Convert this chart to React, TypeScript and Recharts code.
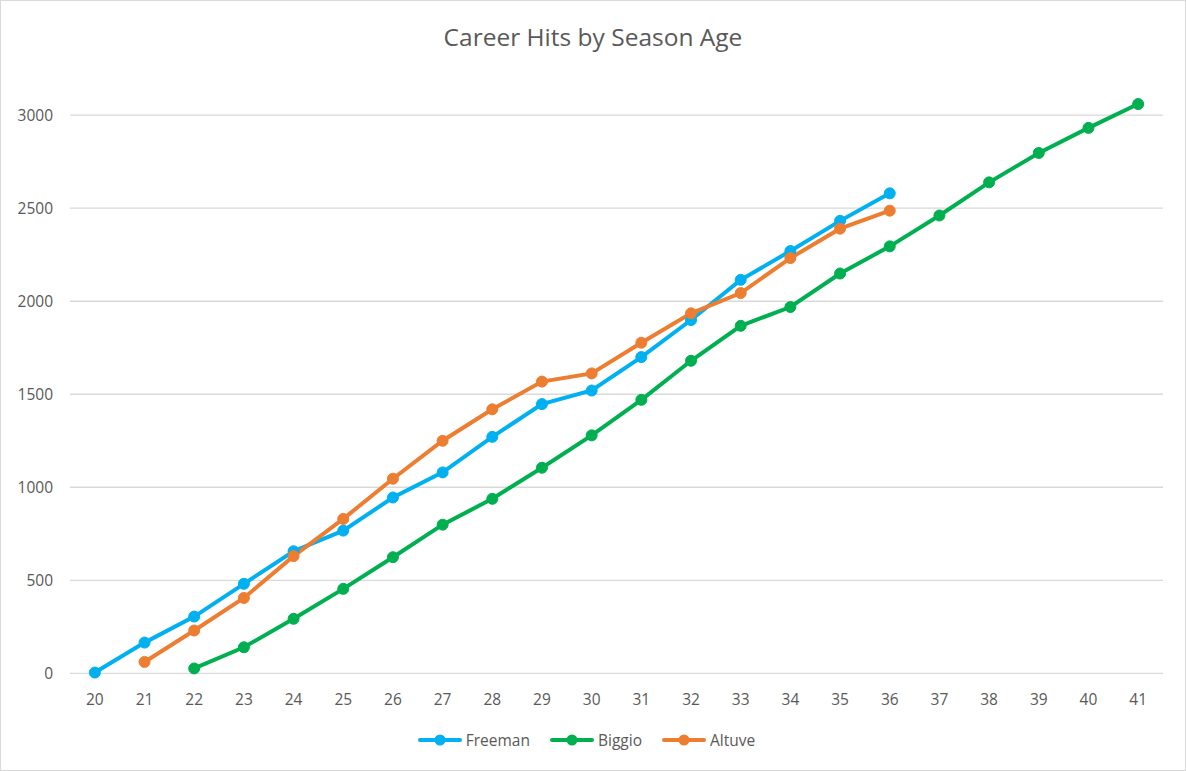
import React from "react";
import { LineChart, Line, XAxis, YAxis, CartesianGrid, Legend } from "recharts";

const ages = [20, 21, 22, 23, 24, 25, 26, 27, 28, 29, 30, 31, 32, 33, 34, 35, 36, 37, 38, 39, 40, 41];
const freeman = [4, 165, 305, 481, 656, 767, 945, 1080, 1271, 1447, 1520, 1700, 1899, 2115, 2270, 2432, 2580, null, null, null, null, null];
const biggio = [null, null, 26, 140, 293, 454, 624, 799, 938, 1105, 1279, 1470, 1680, 1868, 1969, 2149, 2295, 2461, 2639, 2797, 2932, 3060];
const altuve = [null, 61, 230, 405, 630, 830, 1046, 1250, 1419, 1568, 1612, 1777, 1935, 2044, 2232, 2390, 2487, null, null, null, null, null];
const yTicks = [0, 500, 1000, 1500, 2000, 2500, 3000];
const seriesNames = ["Freeman", "Biggio", "Altuve"];
const seriesColors = ["#00B0F0", "#00B050", "#ED7D31"];

const data = ages.map((a, i) => ({
  age: String(a),
  Freeman: freeman[i],
  Biggio: biggio[i],
  Altuve: altuve[i],
}));

const FONT = "'Open Sans', 'Liberation Sans', sans-serif";
const TEXT = "#595959";

const LegendContent = () => {
  return (
    <div style={{ display: "flex", justifyContent: "center", alignItems: "center", height: 20, fontFamily: FONT, fontSize: 15.5, color: TEXT }}>
      {seriesNames.map((name, i) => (
        <div key={name} style={{ display: "flex", alignItems: "center", marginRight: i < seriesNames.length - 1 ? 20 : 0 }}>
          <svg width={44} height={14} style={{ display: "block" }}>
            <line x1={2} y1={7} x2={42} y2={7} stroke={seriesColors[i]} strokeWidth={4} strokeLinecap="round" />
            <circle cx={22} cy={7} r={5.5} fill={seriesColors[i]} />
          </svg>
          <span style={{ marginLeft: 4, lineHeight: "20px" }}>{name}</span>
        </div>
      ))}
    </div>
  );
};

export default function App() {
  return (
    <div
      style={{
        position: "absolute",
        left: 0,
        top: 0,
        width: 1186,
        height: 771,
        boxSizing: "border-box",
        border: "1px solid #d9d9d9",
        background: "#fff",
        fontFamily: FONT,
      }}
    >
      <div
        style={{
          position: "absolute",
          top: 20,
          left: 0,
          width: 1184,
          textAlign: "center",
          fontSize: 24.5,
          color: TEXT,
          lineHeight: "32px",
        }}
      >
        Career Hits by Season Age
      </div>
      <LineChart width={1184} height={769} data={data} margin={{ top: 77, right: 22, bottom: 20, left: 9 }}>
        <CartesianGrid vertical={false} horizontalValues={yTicks} stroke="#d9d9d9" strokeWidth={1.3} />
        <XAxis
          dataKey="age"
          axisLine={false}
          tickLine={false}
          tickSize={0}
          tickMargin={21}
          height={56.7}
          padding={{ left: 24.85, right: 24.85 }}
          interval={0}
          tick={{ fill: TEXT, fontSize: 15.5, fontFamily: FONT }}
        />
        <YAxis
          type="number"
          domain={[0, 3200]}
          ticks={yTicks}
          axisLine={false}
          tickLine={false}
          tickSize={0}
          tickMargin={17}
          width={60}
          tick={{ fill: TEXT, fontSize: 15.5, fontFamily: FONT }}
        />
        <Legend verticalAlign="bottom" content={<LegendContent />} />
        {seriesNames.map((name, i) => (
          <Line
            key={name}
            dataKey={name}
            stroke={seriesColors[i]}
            strokeWidth={4}
            dot={{ r: 5.5, fill: seriesColors[i], stroke: seriesColors[i], strokeWidth: 1 }}
            activeDot={false}
            isAnimationActive={false}
          />
        ))}
      </LineChart>
    </div>
  );
}
